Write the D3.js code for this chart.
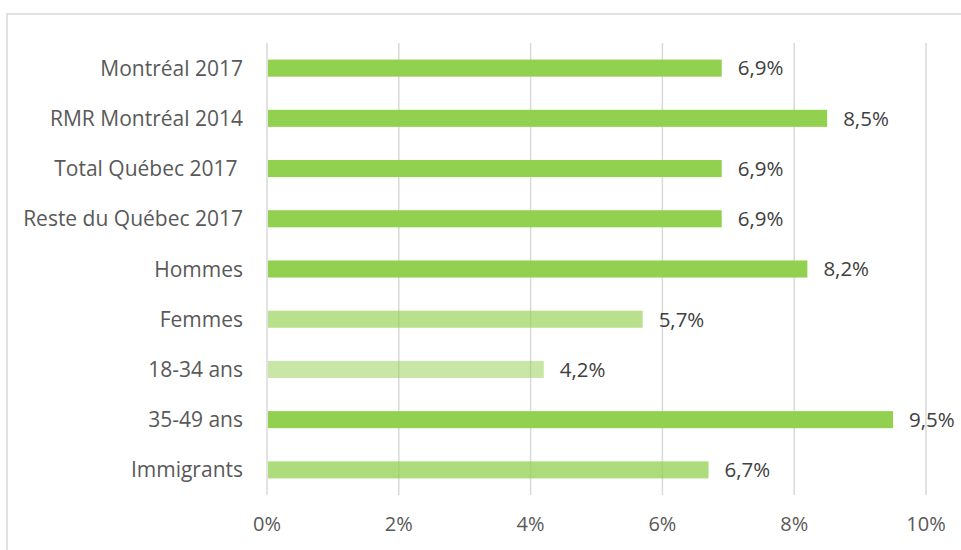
<!DOCTYPE html>
<html>
<head>
<meta charset="utf-8">
<script src="https://cdn.jsdelivr.net/npm/d3@7"></script>
<style>
  body { margin: 0; background: #fff; }
  text { font-family: "Open Sans", sans-serif; }
</style>
</head>
<body>
<div id="chart"></div>
<script>
const categories = ['Montréal 2017', 'RMR Montréal 2014', 'Total Québec 2017 ', 'Reste du Québec 2017',
  'Hommes', 'Femmes', '18-34 ans', '35-49 ans', 'Immigrants'];
const values = [6.9, 8.5, 6.9, 6.9, 8.2, 5.7, 4.2, 9.5, 6.7];
// lighter bars in the original are the same green, faded
const fades = [1, 1, 1, 1, 1, 0.65, 0.5, 1, 0.75];
const xTicks = [0, 2, 4, 6, 8, 10];

const W = 961, H = 550;
const svg = d3.select('#chart').append('svg')
  .attr('width', W).attr('height', H);

// outer frame
svg.append('rect')
  .attr('x', 7).attr('y', 14)
  .attr('width', W + 10).attr('height', H + 10)
  .attr('fill', 'none').attr('stroke', '#d9d9d9').attr('stroke-width', 1.5);

const x = d3.scaleLinear().domain([0, 10]).range([267, 926]);
const y = d3.scaleBand().domain(categories).range([43, 495]).paddingInner(0.66).paddingOuter(0.33);

// gridlines
svg.append('g')
  .selectAll('line')
  .data(xTicks)
  .join('line')
    .attr('x1', d => x(d)).attr('x2', d => x(d))
    .attr('y1', 43).attr('y2', 495)
    .attr('stroke', '#d9d9d9').attr('stroke-width', 1.5);

// bars
svg.append('g')
  .selectAll('rect')
  .data(categories)
  .join('rect')
    .attr('x', x(0) + 1)
    .attr('y', d => y(d))
    .attr('width', (d, i) => x(values[i]) - x(0) - 1)
    .attr('height', y.bandwidth())
    .attr('fill', '#92d050')
    .attr('fill-opacity', (d, i) => fades[i]);

// value labels
svg.append('g')
  .selectAll('text')
  .data(categories)
  .join('text')
    .attr('x', (d, i) => x(values[i]) + 16)
    .attr('y', d => y(d) + y.bandwidth() / 2)
    .attr('dy', '0.36em')
    .attr('font-size', 20.5)
    .attr('fill', '#404040')
    .text((d, i) => d3.format('.1f')(values[i]).replace('.', ',') + '%');

// category labels (keep the trailing space of "Total Québec 2017 ")
svg.append('g')
  .selectAll('text')
  .data(categories)
  .join('text')
    .attr('x', 243)
    .attr('y', d => y(d) + y.bandwidth() / 2)
    .attr('dy', '0.36em')
    .attr('text-anchor', 'end')
    .attr('font-size', 21)
    .attr('fill', '#595959')
    .style('white-space', 'pre')
    .text(d => d);

// x axis labels
svg.append('g')
  .selectAll('text')
  .data(xTicks)
  .join('text')
    .attr('x', d => x(d))
    .attr('y', 524)
    .attr('dy', '0.36em')
    .attr('text-anchor', 'middle')
    .attr('font-size', 20)
    .attr('fill', '#595959')
    .text(d => d + '%');
</script>
</body>
</html>
